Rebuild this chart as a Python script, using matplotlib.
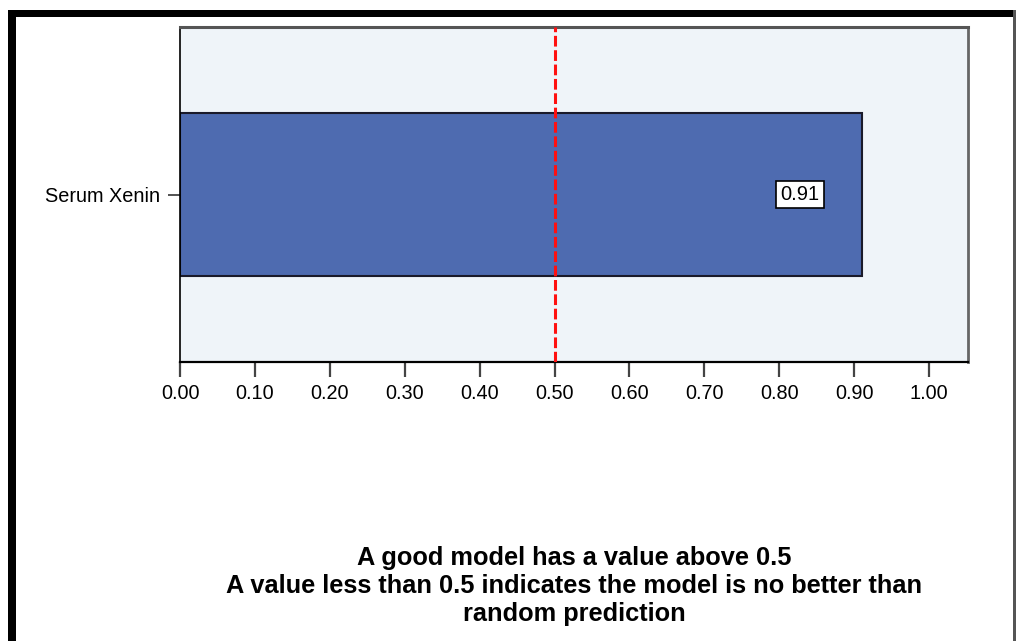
import matplotlib
matplotlib.use("Agg")
import matplotlib.pyplot as plt
from matplotlib import font_manager
from matplotlib.patches import Rectangle

# Data
predictors = ["Serum Xenin"]
quality = [0.91]
threshold = 0.5
xticks = [0.0, 0.1, 0.2, 0.3, 0.4, 0.5, 0.6, 0.7, 0.8, 0.9, 1.0]
xtick_labels = ["%.2f" % v for v in xticks]
note = ("A good model has a value above 0.5\n"
        "A value less than 0.5 indicates the model is no better than\n"
        "random prediction")

installed = {f.name for f in font_manager.fontManager.ttflist}
base_font = "Liberation Sans" if "Liberation Sans" in installed else "DejaVu Sans"
plt.rcParams["font.family"] = [base_font, "DejaVu Sans"]

W, H = 1018, 641
fig = plt.figure(figsize=(W / 100, H / 100), dpi=100)
fig.patch.set_facecolor("white")

ax = fig.add_axes([180 / W, (H - 362) / H, 788 / W, 335 / H])
ax.set_facecolor("#eff4f9")

ax.barh(range(len(predictors)), quality, height=0.97, color="#4e6bb0",
        edgecolor="#1a1a2a", linewidth=1.5, zorder=2)
ax.axvline(threshold, color="#ff1010", linewidth=2.2,
           linestyle=(0, (3.5, 1.2)), zorder=3)

for i, v in enumerate(quality):
    ax.text(v - 0.082, i, "%.2f" % v, ha="center", va="center",
            fontsize=14.5, color="black", zorder=4,
            bbox=dict(boxstyle="square,pad=0.22", facecolor="white",
                      edgecolor="black", linewidth=1.2))

ax.set_xlim(0, 1.052)
ax.set_ylim(-1, 1)
ax.set_xticks(xticks)
ax.set_xticklabels(xtick_labels, fontsize=14.3)
ax.set_yticks(range(len(predictors)))
ax.set_yticklabels(predictors, fontsize=14.3)
ax.tick_params(axis="x", length=11, width=1.6, color="#444444", pad=4.5)
ax.tick_params(axis="y", length=9, width=1.3, color="#444444", pad=5.5)

for side, col, lw in [("left", "black", 1.2), ("bottom", "black", 1.6),
                      ("top", "#555555", 2.2), ("right", "#666666", 2.0)]:
    ax.spines[side].set_color(col)
    ax.spines[side].set_linewidth(lw)

fig.text(574 / W, 1 - 546 / H, note, ha="center", va="top",
         multialignment="center", fontsize=18.3, fontweight="bold",
         linespacing=1.2, color="black")

# Outer frame
fig.patches.append(Rectangle((8 / W, 1 - 17 / H), (1016 - 8) / W, 7 / H,
                             transform=fig.transFigure, facecolor="black",
                             edgecolor="none", zorder=10))
fig.patches.append(Rectangle((8 / W, 0), 8 / W, 1 - 10 / H,
                             transform=fig.transFigure, facecolor="black",
                             edgecolor="none", zorder=10))
fig.patches.append(Rectangle((1013 / W, 0), 3 / W, 1 - 10 / H,
                             transform=fig.transFigure, facecolor="#555555",
                             edgecolor="none", zorder=10))

fig.savefig("out.png", dpi=100, facecolor="white")
